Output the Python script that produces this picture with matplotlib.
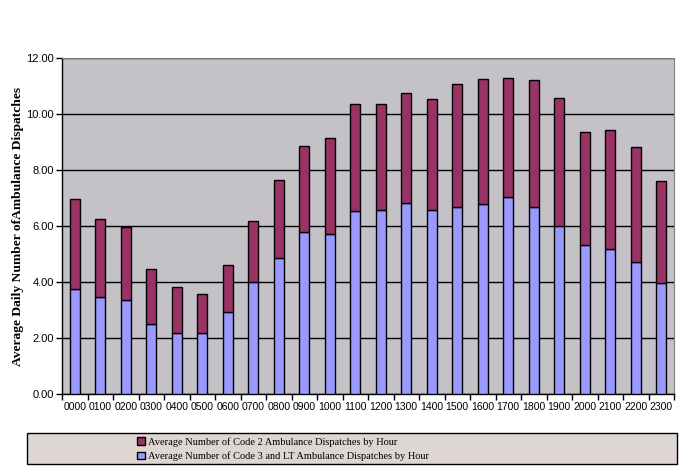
import matplotlib.pyplot as plt
import numpy as np
from matplotlib.patches import Rectangle

# ------------------------------------------------------------
# Data
# ------------------------------------------------------------

hours = [
    "0000", "0100", "0200", "0300", "0400", "0500", "0600", "0700",
    "0800", "0900", "1000", "1100", "1200", "1300", "1400", "1500",
    "1600", "1700", "1800", "1900", "2000", "2100", "2200", "2300",
]

code3_lt = [
    3.74, 3.45, 3.34, 2.49, 2.17, 2.17, 2.92, 3.99,
    4.85, 5.77, 5.70, 6.52, 6.56, 6.81, 6.56, 6.67,
    6.77, 7.02, 6.67, 5.99, 5.31, 5.17, 4.70, 3.95,
]

totals = [
    6.95, 6.24, 5.95, 4.45, 3.81, 3.56, 4.60, 6.17,
    7.63, 8.85, 9.13, 10.35, 10.35, 10.74, 10.52, 11.06,
    11.24, 11.27, 11.20, 10.56, 9.35, 9.42, 8.81, 7.60,
]

code2 = [t - b for t, b in zip(totals, code3_lt)]

y_ticks = [0, 2, 4, 6, 8, 10, 12]

# ------------------------------------------------------------
# Figure
# ------------------------------------------------------------

fig = plt.figure(figsize=(6.84, 4.68), dpi=100)

ax = fig.add_axes([62 / 684, 74 / 468, 612 / 684, 336 / 468])

ax.set_facecolor("#C4C2C6")

x = np.arange(len(hours))

bars_low = ax.bar(
    x, code3_lt, width=0.4,
    color="#9999FF", edgecolor="black", linewidth=1.0, zorder=3,
    label="Average Number of Code 3 and LT Ambulance Dispatches by Hour",
)

bars_high = ax.bar(
    x, code2, bottom=code3_lt, width=0.4,
    color="#993366", edgecolor="black", linewidth=1.0, zorder=3,
    label="Average Number of Code 2 Ambulance Dispatches by Hour",
)

ax.set_xlim(-0.5, len(hours) - 0.5)
ax.set_ylim(0, 12)

ax.set_yticks(y_ticks)
ax.set_yticklabels([f"{v:.2f}" for v in y_ticks], family="Liberation Sans", fontsize=8)

ax.set_xticks(x)
ax.set_xticklabels(hours, family="Liberation Sans", fontsize=7.5)
ax.tick_params(axis="x", length=0, pad=6)
ax.set_xticks(np.arange(-0.5, len(hours)), minor=True)
ax.tick_params(axis="x", which="minor", length=4, width=1, direction="out")
ax.tick_params(axis="y", length=4, width=1, direction="out", pad=2)

ax.yaxis.grid(True, color="black", linewidth=1.0, zorder=1)
ax.set_axisbelow(True)

for side in ["top", "right"]:
    ax.spines[side].set_color("#808080")
for side in ["left", "bottom"]:
    ax.spines[side].set_color("black")
    ax.spines[side].set_linewidth(1.0)

ax.set_ylabel(
    "Average Daily Number ofAmbulance Dispatches",
    family="Liberation Serif", fontweight="bold", fontsize=9.7,
)
ax.yaxis.set_label_coords(-0.062, 0.5)

# ------------------------------------------------------------
# Legend box
# ------------------------------------------------------------

fig.patches.append(Rectangle(
    (27 / 684, 4 / 468), 650 / 684, 31 / 468,
    transform=fig.transFigure, facecolor="#DED6D2",
    edgecolor="black", linewidth=1.0, zorder=0,
))

leg = fig.legend(
    handles=[bars_high, bars_low],
    loc="center", bbox_to_anchor=(0.414, 19 / 468),
    frameon=False,
    prop={"family": "Liberation Serif", "size": 7.5},
    handlelength=0.7, handleheight=0.7, handletextpad=0.3,
    labelspacing=0.45, borderpad=0,
)

fig.savefig("out.png", dpi=100)
